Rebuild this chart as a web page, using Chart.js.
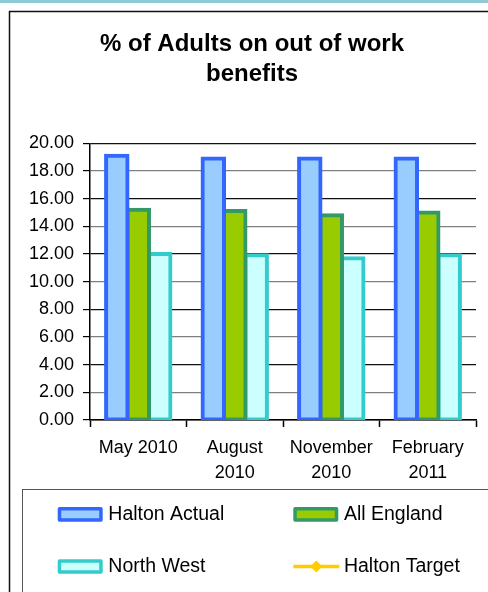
<!DOCTYPE html>
<html><head><meta charset="utf-8">
<script src="https://cdn.jsdelivr.net/npm/chart.js@4.4.0/dist/chart.umd.min.js"></script>
<style>
html,body{margin:0;padding:0;background:#fff;}
#wrap{position:relative;width:488px;height:592px;overflow:hidden;background:#fff;}
#strip{position:absolute;left:0;top:0;width:488px;height:3px;background:#8fc9d5;}
canvas{position:absolute;left:0;top:0;}
</style></head><body>
<div id="wrap"><canvas id="c" width="488" height="592"></canvas><div id="strip"></div></div>
<script>
// ---- data ----
const categories = ["May 2010", ["August", "2010"], ["November", "2010"], ["February", "2011"]];
const seriesNames = ["Halton Actual", "All England", "North West", "Halton Target"];
const haltonActual = [19.1, 18.9, 18.9, 18.9];
const allEngland = [15.2, 15.1, 14.8, 15.0];
const northWest = [12.0, 11.9, 11.7, 11.9];
const haltonTarget = [null, null, null, null];
const yMin = 0, yMax = 20, yStep = 2;
const titleLines = ["% of Adults on out of work", "benefits"];

const FONT = '"Liberation Sans", Arial, Helvetica, sans-serif';
Chart.defaults.font.family = FONT;
Chart.defaults.color = '#000';

const framePlugin = {
  id: 'frame',
  beforeDraw(chart) {
    const ctx = chart.ctx;
    ctx.save();
    ctx.fillStyle = '#fff';
    ctx.fillRect(0, 0, chart.width, chart.height);
    ctx.strokeStyle = '#111';
    ctx.lineWidth = 1.5;
    ctx.strokeRect(9.5, 11.5, 700, 700);
    ctx.restore();
  }
};

const legendPlugin = {
  id: 'boxLegend',
  afterDraw(chart) {
    const ctx = chart.ctx;
    ctx.save();
    ctx.strokeStyle = '#555';
    ctx.lineWidth = 1;
    ctx.strokeRect(22.5, 489.5, 700, 300);
    ctx.font = '19.5px ' + FONT;
    ctx.textBaseline = 'middle';
    ctx.textAlign = 'left';
    chart.data.datasets.forEach((ds, i) => {
      const col = i % 2, row = Math.floor(i / 2);
      const sx = 57.7 + col * 235.6;
      const cy = 514.3 + row * 52.2;
      if (ds.type === 'line') {
        ctx.strokeStyle = ds.borderColor;
        ctx.lineWidth = 3.5;
        ctx.beginPath();
        ctx.moveTo(sx, cy); ctx.lineTo(sx + 46, cy);
        ctx.stroke();
        const mx = sx + 23;
        ctx.fillStyle = ds.pointBackgroundColor;
        ctx.beginPath();
        ctx.moveTo(mx, cy - 6); ctx.lineTo(mx + 6, cy); ctx.lineTo(mx, cy + 6); ctx.lineTo(mx - 6, cy);
        ctx.closePath(); ctx.fill();
      } else {
        const bw = 3.5, w = 45, h = 14.7;
        ctx.fillStyle = ds.backgroundColor;
        ctx.strokeStyle = ds.borderColor;
        ctx.lineWidth = bw;
        ctx.lineJoin = 'round';
        ctx.beginPath();
        ctx.rect(sx + bw / 2, cy - h / 2 + bw / 2, w - bw, h - bw);
        ctx.fill(); ctx.stroke();
      }
      ctx.fillStyle = '#000';
      ctx.fillText(ds.label, sx + 50.6, cy + 0.5);
    });
    ctx.restore();
  }
};

new Chart(document.getElementById('c'), {
  data: {
    labels: categories,
    datasets: [
      { type: 'bar', label: seriesNames[0], data: haltonActual, backgroundColor: '#99ccff', borderColor: '#3366ff' },
      { type: 'bar', label: seriesNames[1], data: allEngland, backgroundColor: '#99cc00', borderColor: '#339966' },
      { type: 'bar', label: seriesNames[2], data: northWest, backgroundColor: '#ccffff', borderColor: '#33cccc' },
      { type: 'line', label: seriesNames[3], data: haltonTarget, borderColor: '#ffcc00', backgroundColor: '#ffcc00',
        pointBackgroundColor: '#ffcc00', pointStyle: 'rectRot', borderWidth: 3 }
    ]
  },
  options: {
    responsive: false,
    animation: false,
    datasets: {
      bar: { borderWidth: 4, borderSkipped: false, inflateAmount: 2, categoryPercentage: 0.667, barPercentage: 1 }
    },
    layout: { padding: { left: 28, right: 12, top: 0, bottom: 112 } },
    plugins: {
      legend: { display: false },
      tooltip: { enabled: false },
      title: {
        display: true,
        text: titleLines,
        color: '#000',
        font: { size: 24, weight: 'bold', lineHeight: 1.267 },
        padding: { top: 29, bottom: 53.5 }
      }
    },
    scales: {
      x: {
        afterFit(scale) { scale.height = 60; },
        grid: { offset: true, drawOnChartArea: false, drawTicks: true, tickLength: 7, tickColor: '#000', tickWidth: 1.5 },
        border: { color: '#000', width: 1.5 },
        ticks: { font: { size: 18, lineHeight: 1.36 }, color: '#000', padding: 9, maxRotation: 0, autoSkip: false }
      },
      y: {
        min: yMin, max: yMax,
        afterFit(scale) { scale.width = 62; },
        grid: {
          color: (c) => (c.index % 2 === 0 ? '#111' : '#808080'),
          lineWidth: 1.2,
          tickColor: '#000', tickLength: 7, tickWidth: 1.2
        },
        border: { color: '#000', width: 1.5 },
        ticks: { stepSize: yStep, padding: 9, font: { size: 18 }, color: '#000',
          callback: (v) => Number(v).toFixed(2) }
      }
    }
  },
  plugins: [framePlugin, legendPlugin]
});
</script>
</body></html>
